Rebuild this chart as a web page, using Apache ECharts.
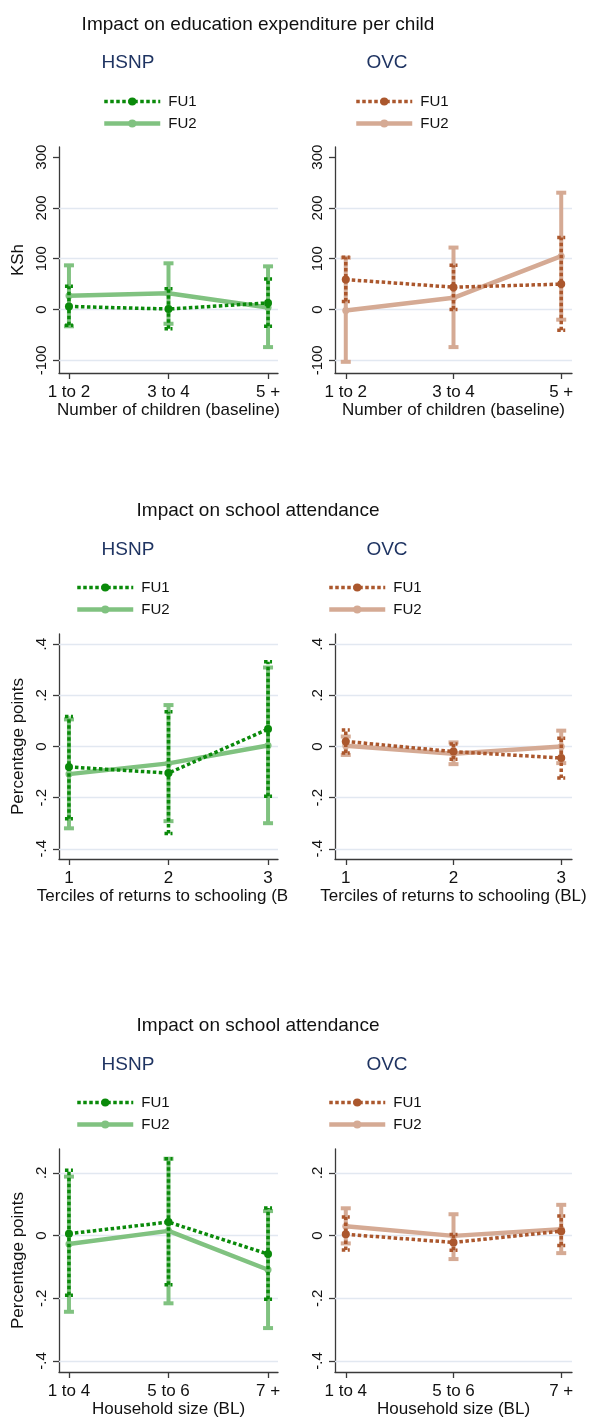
<!DOCTYPE html>
<html>
<head>
<meta charset="utf-8">
<title>Impact on education expenditure and school attendance</title>
<script src="https://cdn.jsdelivr.net/npm/echarts@6/dist/echarts.min.js"></script>
<style>
  html, body { margin: 0; padding: 0; background: #fff; }
  #chart { width: 589px; height: 1419px; }
</style>
</head>
<body>
<div id="chart"></div>
<script>
// x categories
var childCats = ['1 to 2', '3 to 4', '5 +'];
var tercileCats = ['1', '2', '3'];
var hhSizeCats = ['1 to 4', '5 to 6', '7 +'];

// y ticks and labels
var kshTicks = [-100, 0, 100, 200, 300];
var kshTickLabels = ['-100', '0', '100', '200', '300'];
var attTicks = [-0.4, -0.2, 0, 0.2, 0.4];
var attTickLabels = ['-.4', '-.2', '0', '.2', '.4'];
var hhTicks = [-0.4, -0.2, 0, 0.2];
var hhTickLabels = ['-.4', '-.2', '0', '.2'];

// education expenditure per child (KSh), estimate and [low, high]
var expHsnpFu1 = [6, 1, 13];
var expHsnpFu1Ci = [[-31, 46], [-38, 41], [-33, 60]];
var expHsnpFu2 = [27, 32, 4];
var expHsnpFu2Ci = [[-33, 87], [-28, 91], [-74, 85]];
var expOvcFu1 = [59, 44, 50];
var expOvcFu1Ci = [[16, 103], [0, 87], [-41, 142]];
var expOvcFu2 = [-2, 23, 105];
var expOvcFu2Ci = [[-103, 102], [-74, 122], [-20, 230]];

// school attendance by terciles of returns to schooling
var terHsnpFu1 = [-0.08, -0.104, 0.068];
var terHsnpFu1Ci = [[-0.283, 0.117], [-0.34, 0.136], [-0.195, 0.331]];
var terHsnpFu2 = [-0.108, -0.066, 0.004];
var terHsnpFu2Ci = [[-0.32, 0.106], [-0.292, 0.162], [-0.3, 0.309]];
var terOvcFu1 = [0.02, -0.02, -0.045];
var terOvcFu1Ci = [[-0.025, 0.065], [-0.05, 0.01], [-0.123, 0.032]];
var terOvcFu2 = [0.003, -0.028, 0];
var terOvcFu2Ci = [[-0.033, 0.039], [-0.069, 0.016], [-0.065, 0.062]];

// school attendance by household size
var hhHsnpFu1 = [0.006, 0.043, -0.059];
var hhHsnpFu1Ci = [[-0.19, 0.208], [-0.157, 0.245], [-0.203, 0.088]];
var hhHsnpFu2 = [-0.027, 0.015, -0.109];
var hhHsnpFu2Ci = [[-0.243, 0.188], [-0.216, 0.245], [-0.295, 0.078]];
var hhOvcFu1 = [0.004, -0.022, 0.014];
var hhOvcFu1Ci = [[-0.046, 0.059], [-0.047, 0.003], [-0.032, 0.062]];
var hhOvcFu2 = [0.03, -0.001, 0.02];
var hhOvcFu2Ci = [[-0.025, 0.087], [-0.075, 0.068], [-0.056, 0.098]];

var font = '"Liberation Sans", Arial, sans-serif';
var colors = {
    HSNP: { fu1: '#0a8a0a', fu2: '#80c280' },
    OVC: { fu1: '#ab572d', fu2: '#d5aa94' }
};

var panels = [
    {
        title: 'Impact on education expenditure per child',
        cats: childCats, xName: 'Number of children (baseline)', yName: 'KSh',
        yMin: -125, yMax: 320, ticks: kshTicks, tickLabels: kshTickLabels, gridLines: [-100, 0, 100, 200],
        top: 147, height: 226, titleY: 25, subY: 63, legendTop: 94, legendLeft: [102, 354],
        HSNP: [expHsnpFu1, expHsnpFu1Ci, expHsnpFu2, expHsnpFu2Ci],
        OVC: [expOvcFu1, expOvcFu1Ci, expOvcFu2, expOvcFu2Ci]
    },
    {
        title: 'Impact on school attendance',
        cats: tercileCats, xName: 'Terciles of returns to schooling (BL)', yName: 'Percentage points',
        yMin: -0.44, yMax: 0.44, ticks: attTicks, tickLabels: attTickLabels, gridLines: attTicks,
        top: 634, height: 225, titleY: 511, subY: 550, legendTop: 580, legendLeft: [75, 327],
        clipName: true,
        HSNP: [terHsnpFu1, terHsnpFu1Ci, terHsnpFu2, terHsnpFu2Ci],
        OVC: [terOvcFu1, terOvcFu1Ci, terOvcFu2, terOvcFu2Ci]
    },
    {
        title: 'Impact on school attendance',
        cats: hhSizeCats, xName: 'Household size (BL)', yName: 'Percentage points',
        yMin: -0.435, yMax: 0.276, ticks: hhTicks, tickLabels: hhTickLabels, gridLines: hhTicks,
        top: 1149, height: 226, titleY: 1026, subY: 1065, legendTop: 1095, legendLeft: [75, 327],
        HSNP: [hhHsnpFu1, hhHsnpFu1Ci, hhHsnpFu2, hhHsnpFu2Ci],
        OVC: [hhOvcFu1, hhOvcFu1Ci, hhOvcFu2, hhOvcFu2Ci]
    }
];

function lineSeries(name, gi, est, color, dotted, z) {
    return {
        name: name, type: 'line', xAxisIndex: gi, yAxisIndex: gi, z: z,
        data: est.map(function (v, i) { return [i + 1, v]; }),
        symbol: 'circle', symbolSize: dotted ? 8 : 7,
        itemStyle: { color: color },
        lineStyle: { color: color, width: dotted ? 3.5 : 4.5, type: dotted ? [3.5, 2.5] : 'solid', cap: 'butt' },
        emphasis: { disabled: true }
    };
}

function ciSeries(name, gi, ci, color, dotted, z) {
    return {
        name: name, type: 'custom', xAxisIndex: gi, yAxisIndex: gi, z: z,
        data: ci.map(function (c, i) { return [i + 1, c[0], c[1]]; }),
        encode: { x: 0, y: [1, 2] },
        renderItem: function (params, api) {
            var x = api.value(0);
            var lo = api.coord([x, api.value(1)]);
            var hi = api.coord([x, api.value(2)]);
            var w = dotted ? 4 : 5;
            var st = { stroke: color, lineWidth: dotted ? 3.5 : 4, lineDash: dotted ? [3.5, 2.5] : null, fill: null };
            return {
                type: 'group',
                children: [
                    { type: 'line', shape: { x1: lo[0], y1: lo[1], x2: hi[0], y2: hi[1] }, style: st },
                    { type: 'line', shape: { x1: lo[0] - w, y1: lo[1], x2: lo[0] + w, y2: lo[1] }, style: st },
                    { type: 'line', shape: { x1: hi[0] - w, y1: hi[1], x2: hi[0] + w, y2: hi[1] }, style: st }
                ]
            };
        }
    };
}

var grid = [], xAxis = [], yAxis = [], series = [], legend = [], graphic = [];

panels.forEach(function (p, pi) {
    graphic.push({
        type: 'text', x: 258, y: p.titleY,
        style: { text: p.title, fontSize: 19, fontFamily: font, fill: '#111', align: 'center', verticalAlign: 'middle' }
    });
    ['HSNP', 'OVC'].forEach(function (prog, k) {
        var gi = pi * 2 + k;
        var c = colors[prog];
        var d = p[prog];
        var left = k ? 335 : 59, width = k ? 237 : 219;
        grid.push({ left: left, width: width, top: p.top, height: p.height });

        var xa = {
            type: 'value', gridIndex: gi, min: 0.9, max: 3.1,
            axisLine: { show: true, onZero: false, lineStyle: { color: '#3a3a3a', width: 1.3 } },
            axisTick: { show: true, length: 6, customValues: [1, 2, 3], lineStyle: { color: '#3a3a3a', width: 1.3 } },
            axisLabel: {
                customValues: [1, 2, 3], margin: 11, fontSize: 17, color: '#111', fontFamily: font,
                formatter: function (v) { return p.cats[Math.round(v) - 1]; }
            },
            splitLine: { show: false },
            name: p.xName, nameLocation: 'middle', nameGap: 29,
            nameTextStyle: { fontSize: 17, color: '#111', fontFamily: font }
        };
        if (p.clipName && k === 0) {
            // the left panel's title is cut off by the right panel in the original
            xa.nameTruncate = { maxWidth: 253, ellipsis: '' };
            xa.nameTextStyle.padding = [0, 12, 0, 0];
        }
        xAxis.push(xa);
        yAxis.push({
            type: 'value', gridIndex: gi, min: p.yMin, max: p.yMax,
            axisLine: { show: true, onZero: false, lineStyle: { color: '#3a3a3a', width: 1.3 } },
            axisTick: { show: true, length: 6, customValues: p.ticks, lineStyle: { color: '#3a3a3a', width: 1.3 } },
            axisLabel: {
                customValues: p.ticks, rotate: 90, margin: 10, fontSize: 15, color: '#111', fontFamily: font,
                formatter: function (v) {
                    var best = 0;
                    p.ticks.forEach(function (t, i) { if (Math.abs(t - v) < Math.abs(p.ticks[best] - v)) best = i; });
                    return p.tickLabels[best];
                }
            },
            splitLine: { show: false },
            name: k === 0 ? p.yName : '', nameLocation: 'middle', nameGap: 32,
            nameTextStyle: { fontSize: 17, color: '#111', fontFamily: font }
        });

        graphic.push({
            type: 'text', x: k ? 387 : 128, y: p.subY,
            style: { text: prog, fontSize: 19, fontFamily: font, fill: '#1f3462', align: 'center', verticalAlign: 'middle' }
        });

        legend.push({
            orient: 'vertical', left: p.legendLeft[k], top: p.legendTop, padding: 0,
            itemWidth: 56, itemHeight: 10, itemGap: 7,
            data: [prog + ' FU1', prog + ' FU2'],
            formatter: function (n) { return n.split(' ')[1]; },
            lineStyle: { width: 'inherit' },
            textStyle: { fontSize: 15, color: '#111', fontFamily: font, padding: [0, 0, 0, 3] }
        });

        series.push(lineSeries(prog + ' FU1', gi, d[0], c.fu1, true, 5));
        series.push(lineSeries(prog + ' FU2', gi, d[2], c.fu2, false, 3));
        series.push(ciSeries(prog + ' FU2', gi, d[3], c.fu2, false, 2));
        series.push(ciSeries(prog + ' FU1', gi, d[1], c.fu1, true, 4));
        series.push({
            name: 'gridlines', type: 'line', xAxisIndex: gi, yAxisIndex: gi, data: [], silent: true, z: 1,
            markLine: {
                silent: true, symbol: 'none', label: { show: false }, z: 1,
                lineStyle: { color: '#e2e8f1', width: 1.3, type: 'solid' },
                data: p.gridLines.map(function (v) { return { yAxis: v }; })
            }
        });
    });
});

var myChart = echarts.init(document.getElementById('chart'), null, { renderer: 'canvas' });

var option = {
    backgroundColor: '#fff',
    animation: false,
    textStyle: { fontFamily: font },
    grid: grid,
    xAxis: xAxis,
    yAxis: yAxis,
    legend: legend,
    graphic: graphic,
    series: series
};

myChart.setOption(option);
window.addEventListener('resize', myChart.resize);
</script>
</body>
</html>
